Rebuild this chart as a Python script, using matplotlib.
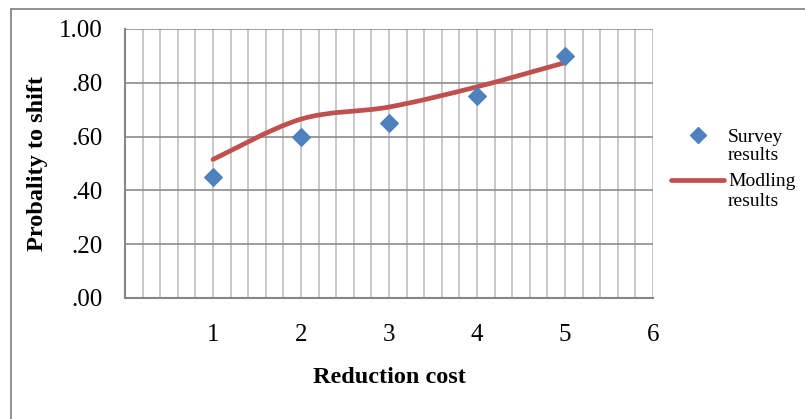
import numpy as np
import matplotlib
matplotlib.use('Agg')
import matplotlib.pyplot as plt
from matplotlib.path import Path
from matplotlib.patches import PathPatch
from matplotlib.lines import Line2D
from matplotlib.ticker import MultipleLocator, FuncFormatter

# Data
reduction_cost = [1, 2, 3, 4, 5]
survey_results = [0.45, 0.60, 0.65, 0.75, 0.90]
modelling_results = [0.515, 0.665, 0.71, 0.785, 0.875]
x_ticks = [1, 2, 3, 4, 5, 6]

plt.rcParams['font.family'] = ['Liberation Serif', 'DejaVu Serif']

BLUE = '#4F81BD'
RED = '#C0504D'
W, H = 805, 419


def smooth_path(xs, ys, tension=1 / 6):
    """Excel-like smoothed line as cubic Bezier segments"""
    pts = np.column_stack([xs, ys]).astype(float)
    n = len(pts)
    verts = [pts[0]]
    codes = [Path.MOVETO]
    for i in range(n - 1):
        p0 = pts[max(i - 1, 0)]
        p1 = pts[i]
        p2 = pts[i + 1]
        p3 = pts[min(i + 2, n - 1)]
        c1 = p1 + (p2 - p0) * tension
        c2 = p2 - (p3 - p1) * tension
        verts += [c1, c2, p2]
        codes += [Path.CURVE4] * 3
    return Path(verts, codes)


def fx(px):
    return px / W


def fy(py):
    return 1 - py / H


fig = plt.figure(figsize=(W / 100, H / 100), dpi=100)
ax = fig.add_axes([0.1553, 0.2888, 0.6559, 0.6420])

ax.set_xlim(0, 6)
ax.set_ylim(0, 1)

ax.xaxis.set_minor_locator(MultipleLocator(0.2))
ax.yaxis.set_major_locator(MultipleLocator(0.2))
ax.set_xticks(x_ticks)
ax.yaxis.set_major_formatter(FuncFormatter(lambda v, p: f'{v:.2f}' if v >= 1 else f'{v:.2f}'.lstrip('0')))

ax.grid(True, which='both', axis='x', color='#BFBFBF', linewidth=1.2)
ax.grid(True, which='major', axis='y', color='#8C8C8C', linewidth=1.2)
ax.set_axisbelow(True)

for s in ['top', 'right']:
    ax.spines[s].set_visible(False)
for s in ['left', 'bottom']:
    ax.spines[s].set_color('#868686')
    ax.spines[s].set_linewidth(1.5)

ax.tick_params(which='both', length=0, labelsize=18, colors='black')
ax.tick_params(axis='x', pad=18.5)
ax.tick_params(axis='y', pad=16)

ax.scatter(reduction_cost, survey_results, marker='D', s=80, color=BLUE, zorder=4)
ax.add_patch(PathPatch(smooth_path(reduction_cost, modelling_results), facecolor='none',
                       edgecolor=RED, linewidth=3.4, capstyle='round', zorder=3))

ax.set_xlabel('Reduction cost', fontsize=17.5, fontweight='bold', labelpad=15)
ax.set_ylabel('Probality to shift', fontsize=17.5, fontweight='bold', labelpad=8)

# legend, Excel style: key aligned with the first text line
fig.add_artist(Line2D([fx(698)], [fy(135)], marker='D', linestyle='none', color=BLUE,
                      markersize=8.5, transform=fig.transFigure))
fig.add_artist(Line2D([fx(671), fx(724)], [fy(180), fy(180)], color=RED, linewidth=3.4,
                      solid_capstyle='round', transform=fig.transFigure))
legend_lines = [('Survey', 137), ('results', 156), ('Modling', 181), ('results', 201)]
for txt, py in legend_lines:
    fig.text(fx(728), fy(py), txt, fontsize=14, va='center', ha='left')

# outer chart frame
fig.add_artist(Line2D([fx(11), fx(11)], [0, fy(9)], transform=fig.transFigure,
                      color='#888888', linewidth=1.3))
fig.add_artist(Line2D([fx(11), 1], [fy(9), fy(9)], transform=fig.transFigure,
                      color='#888888', linewidth=1.3))

fig.savefig('out.png', dpi=100, facecolor='white')
